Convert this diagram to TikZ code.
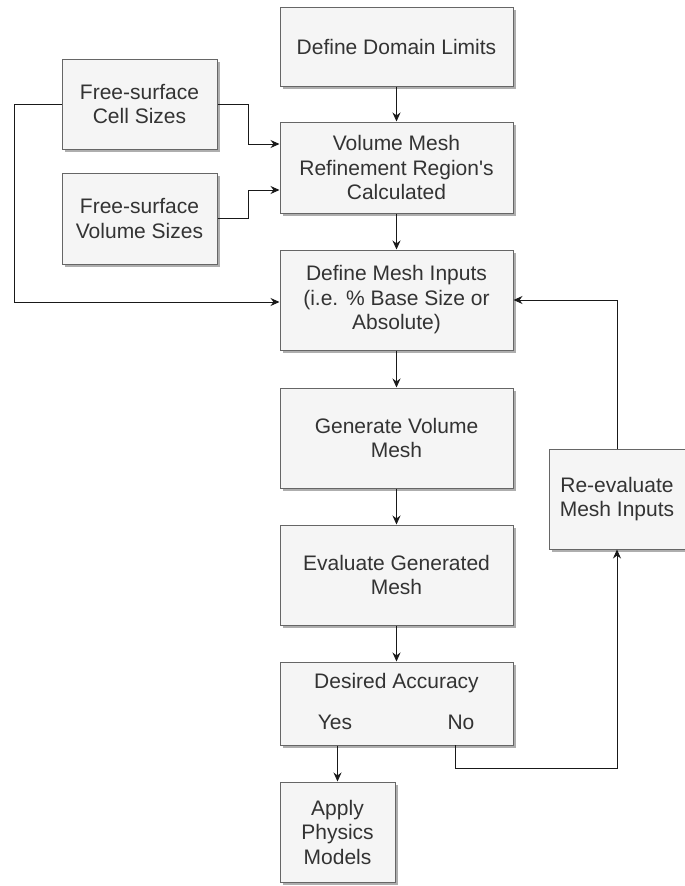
\documentclass[tikz,border=0pt]{standalone}
\usepackage{fontspec}
\setmainfont{Liberation Sans}
\usetikzlibrary{arrows.meta,shadows}
\definecolor{boxfill}{HTML}{F5F5F5}
\definecolor{boxline}{HTML}{666666}
\definecolor{boxtext}{HTML}{333333}
\tikzset{
	stepbox/.style={draw=boxline,fill=boxfill,line width=1pt,text=boxtext,
		align=center,inner sep=0pt,anchor=center,
		font=\fontsize{21}{24.5}\selectfont,
		drop shadow={shadow xshift=2.5pt,shadow yshift=-2.5pt,fill=black!45,opacity=.7}},
	plain/.style={text=boxtext,anchor=center,font=\fontsize{21}{24.5}\selectfont},
	link/.style={draw=black!90,line width=1pt,-{Stealth[length=9pt,width=8pt]}}
}
\begin{document}
\begin{tikzpicture}[x=1pt,y=-1pt]
	\useasboundingbox (0,0) rectangle (685,886);
	% main column
	\node[stepbox,minimum width=233,minimum height=79] (domain) at (396.5,46.5)
		{Define Domain Limits};
	\node[stepbox,minimum width=233,minimum height=91] (refine) at (396.5,167.5)
		{Volume Mesh\\Refinement Region\textquotesingle s\\Calculated};
	\node[stepbox,minimum width=233,minimum height=100] (mesh) at (396.5,300)
		{Define Mesh Inputs\\(i.e. \% Base Size or\\Absolute)};
	\node[stepbox,minimum width=233,minimum height=100] (gen) at (396.5,438)
		{Generate Volume\\Mesh};
	\node[stepbox,minimum width=233,minimum height=100] (evalm) at (396.5,575)
		{Evaluate Generated\\Mesh};
	\node[stepbox,minimum width=233,minimum height=83] (acc) at (396.5,703.5) {};
	\node[plain] (acctext) at (396.5,683) {Desired Accuracy};
	\node[plain] (yes) at (335,722) {Yes};
	\node[plain] (no) at (461,722) {No};
	\node[stepbox,minimum width=115,minimum height=100] (apply) at (337.5,832)
		{Apply\\Physics\\Models};
	% side boxes
	\node[stepbox,minimum width=155,minimum height=90] (cell) at (139.5,104)
		{Free-surface\\Cell Sizes};
	\node[stepbox,minimum width=155,minimum height=91] (vol) at (139.5,218.5)
		{Free-surface\\Volume Sizes};
	\node[stepbox,minimum width=136,minimum height=100] (reeval) at (617,499)
		{Re-evaluate\\Mesh Inputs};
	% connectors
	\draw[link] (domain) -- (refine);
	\draw[link] (refine) -- (mesh);
	\draw[link] (mesh) -- (gen);
	\draw[link] (gen) -- (evalm);
	\draw[link] (evalm) -- (acc);
	\draw[link] (apply.north |- acc.south) -- (apply.north);
	\draw[link] (cell.east) -- (248,104) |- ([yshift=23.5pt]refine.west);
	\draw[link] (vol.east) -- (248,218.5) |- ([yshift=-22.5pt]refine.west);
	\draw[link] (cell.west) -- (14,104) |- ([yshift=-2pt]mesh.west);
	\draw[link] (455,745) -- (455,768) -| (reeval.south);
	\draw[link] (reeval.north) |- (mesh.east);
\end{tikzpicture}
\end{document}
